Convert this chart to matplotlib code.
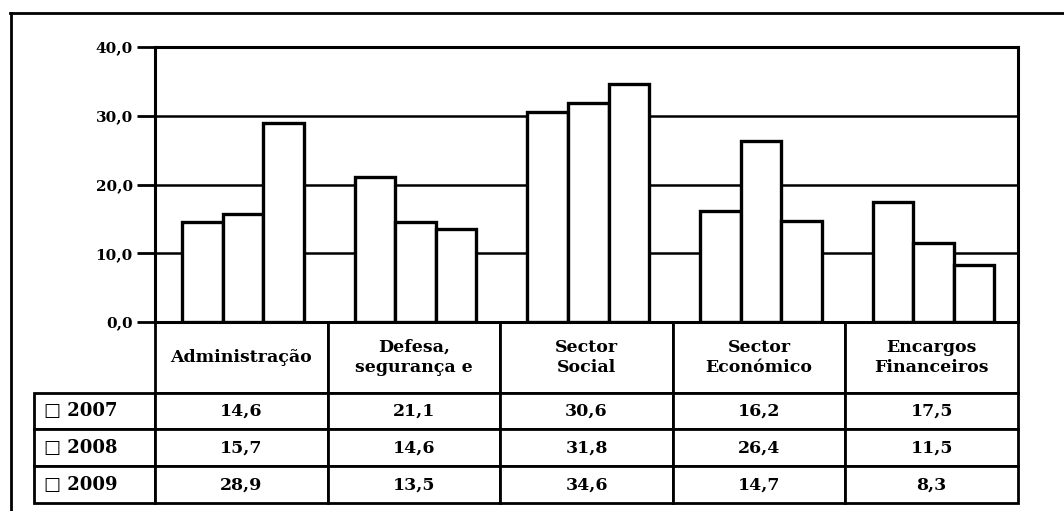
import matplotlib.pyplot as plt
import numpy as np
from matplotlib.lines import Line2D

# dados
categorias = ['Administração', 'Defesa,\nsegurança e', 'Sector\nSocial',
              'Sector\nEconómico', 'Encargos\nFinanceiros']
anos = ['2007', '2008', '2009']
v2007 = [14.6, 21.1, 30.6, 16.2, 17.5]
v2008 = [15.7, 14.6, 31.8, 26.4, 11.5]
v2009 = [28.9, 13.5, 34.6, 14.7, 8.3]
yticks = [0, 10, 20, 30, 40]

plt.rcParams['font.family'] = ['DejaVu Serif', 'DejaVu Sans']
plt.rcParams['font.weight'] = 'bold'

W, H = 1064, 511
fig = plt.figure(figsize=(W / 100, H / 100), dpi=100)
ax = fig.add_axes([155 / W, (H - 322) / H, 863 / W, 275 / H])

x = np.arange(len(categorias))
w = 0.235
for i, vals in enumerate([v2007, v2008, v2009]):
    ax.bar(x + (i - 1) * w + 0.01, vals, width=w, color='white', edgecolor='black',
           linewidth=2.4, zorder=3)

ax.set_xlim(-0.5, len(categorias) - 0.5)
ax.set_ylim(0, 40)
ax.set_yticks(yticks)
ax.set_yticklabels([f'{t:.1f}'.replace('.', ',') for t in yticks], fontsize=11,
                   fontweight='bold')
ax.set_xticks([])
ax.tick_params(axis='y', length=13, width=2, pad=3)
ax.yaxis.grid(True, color='black', linewidth=1.8, zorder=0)
for s in ax.spines.values():
    s.set_linewidth(2.2)

# tabela
linhas = [[a] + [f'{v:.1f}'.replace('.', ',') for v in vals]
          for a, vals in zip(anos, [v2007, v2008, v2009])]
col_w = [121 / 863] + [1 / len(categorias)] * len(categorias)
tab = ax.table(cellText=linhas, colLabels=[''] + categorias, colWidths=col_w,
               cellLoc='center', bbox=[-121 / 863, -181 / 275, 1 + 121 / 863, 181 / 275])
tab.auto_set_font_size(False)
for (r, c), cell in tab.get_celld().items():
    cell.set_linewidth(2)
    cell.get_text().set_fontsize(12.5)
    cell.get_text().set_fontweight('bold')
    cell.get_text().set_linespacing(1.25)
    if r == 0:
        cell.set_height(71)
    else:
        cell.set_height(37)
    if r == 0 and c == 0:
        cell.set_visible(False)
    if c == 0 and r > 0:
        cell.get_text().set_text('\u25a1 ' + linhas[r - 1][0])
        cell.get_text().set_fontsize(13)
        cell.get_text().set_horizontalalignment('left')
        cell._loc = 'left'
        cell.PAD = 0.08

# moldura exterior
fig.add_artist(Line2D([10 / W, 1], [1 - 13 / H, 1 - 13 / H], color='black', linewidth=2))
fig.add_artist(Line2D([11 / W, 11 / W], [0, 1 - 13 / H], color='black', linewidth=2))

fig.savefig('out.png', dpi=100)
